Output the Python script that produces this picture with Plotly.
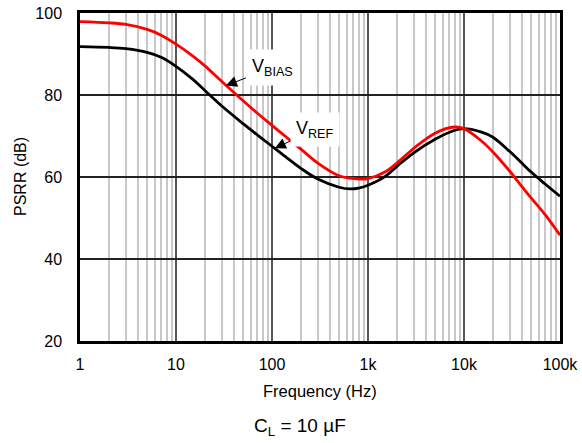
import plotly.graph_objects as go

freq = [1, 2, 3, 5, 7, 10, 15, 20, 30, 50, 70, 100, 150, 200, 300, 500, 650, 800, 1000,
        1500, 2000, 3000, 5000, 8000, 10000, 15000, 20000, 30000, 40000, 50000, 70000, 100000]
vref = [91.8, 91.6, 91.3, 90.4, 89.2, 87.0, 83.8, 81.1, 77.3, 73.0, 70.3, 67.5, 64.3, 62.1, 59.5,
        57.5, 57.1, 57.3, 58.0, 60.1, 62.6, 65.9, 69.2, 71.4, 71.8, 71.0, 69.7, 66.2, 63.4, 61.2, 58.3, 55.3]
vbias = [97.9, 97.6, 97.2, 96.0, 94.6, 92.4, 89.5, 87.1, 83.3, 78.6, 75.6, 72.6, 69.2, 66.8, 63.4,
         60.3, 59.7, 59.5, 59.6, 61.2, 63.4, 67.0, 70.7, 72.2, 71.8, 68.9, 66.1, 61.4, 57.7, 54.9, 50.8, 45.8]

x_tickvals = [1, 10, 100, 1000, 10000, 100000]
x_ticktext = ["1", "10", "100", "1k", "10k", "100k"]
y_tickvals = [20, 40, 60, 80, 100]

FONT = "Liberation Sans, Arial, sans-serif"

fig = go.Figure()
fig.add_trace(go.Scatter(x=freq, y=vref, mode="lines", name="VREF",
                         line=dict(color="black", width=2.8, shape="spline", smoothing=1)))
fig.add_trace(go.Scatter(x=freq, y=vbias, mode="lines", name="VBIAS",
                         line=dict(color="#ff0000", width=2.8, shape="spline", smoothing=1)))

fig.update_layout(
    width=582, height=443,
    margin=dict(l=80, r=22, t=13, b=102),
    paper_bgcolor="white", plot_bgcolor="white",
    showlegend=False,
    font=dict(family=FONT, size=16, color="black"),
    xaxis=dict(type="log", range=[0, 5], tickvals=x_tickvals, ticktext=x_ticktext,
               showgrid=True, gridcolor="#555555", gridwidth=2,
               minor=dict(dtick="D1", showgrid=True, gridcolor="#c8c8c8", gridwidth=2, ticks=""),
               showline=True, linecolor="black", linewidth=2.5, mirror=True,
               ticks="", tickfont=dict(size=16), zeroline=False, automargin=False,
               ticklabelstandoff=7, ticklabeloverflow="allow"),
    yaxis=dict(range=[20, 100], tickvals=y_tickvals,
               showgrid=True, gridcolor="#222222", gridwidth=1.5,
               showline=True, linecolor="black", linewidth=2.5, mirror=True,
               ticks="", tickfont=dict(size=16), zeroline=False, automargin=False,
               ticklabelstandoff=12, ticklabeloverflow="allow"),
)

fig.add_annotation(text="Frequency (Hz)", xref="paper", yref="paper", x=0.5, y=-0.152,
                   showarrow=False, font=dict(size=16.5), yanchor="middle")
fig.add_annotation(text="PSRR (dB)", xref="paper", yref="paper", x=-0.125, y=0.5,
                   textangle=-90, showarrow=False, font=dict(size=16), xanchor="center")
fig.add_annotation(text="C<sub>L</sub> = 10 µF", xref="paper", yref="paper", x=0.458, y=-0.262,
                   showarrow=False, font=dict(size=19), yanchor="middle")

fig.add_annotation(text="V<sub>BIAS</sub>", x=1.52, y=82.3, xref="x", yref="y",
                   ax=47, ay=-18, showarrow=True, arrowhead=2, arrowsize=2.2, arrowwidth=1,
                   arrowcolor="black", bgcolor="white", font=dict(size=18), borderpad=6)
fig.add_annotation(text="V<sub>REF</sub>", x=2.03, y=67.0, xref="x", yref="y",
                   ax=40, ay=-19, showarrow=True, arrowhead=2, arrowsize=2.2, arrowwidth=1,
                   arrowcolor="black", bgcolor="white", font=dict(size=18), borderpad=5)

fig.write_html("out.html", config={"displayModeBar": False},
               post_script="document.body.style.margin='0px';")
